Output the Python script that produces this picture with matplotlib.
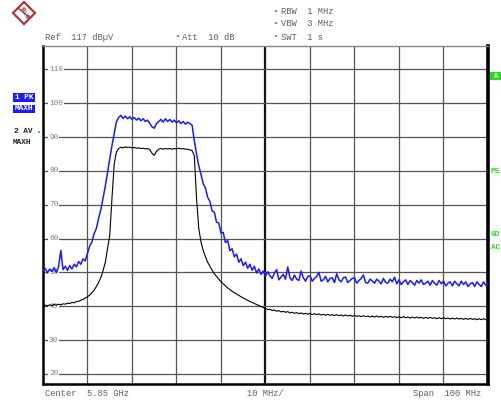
import numpy as np
import matplotlib
matplotlib.use("Agg")
import matplotlib.pyplot as plt
from matplotlib.patches import Rectangle, Polygon
from matplotlib.lines import Line2D

# Sweep settings
center_label = "Center  5.85 GHz"
span_label = "Span  100 MHz"
div_label = "10 MHz/"
ref_level = 117          # dBuV, top of screen
y_ticks = [20, 30, 40, 50, 60, 70, 80, 90, 100, 110]

# Trace 1: peak detector, max hold (dBuV), 0.5 MHz per point from -50 to +50 MHz offset
trace_pk = [
    50.5, 51.2, 49.8, 51.0, 50.2, 51.4, 50.0, 51.6, 56.5, 50.8,   # -50
    51.8, 50.6, 52.0, 51.0, 52.4, 51.6, 53.2, 52.4, 54.0, 53.4,   # -45
    55.6, 57.8, 59.0, 61.5, 63.0, 66.0, 68.5, 72.0, 75.5, 79.5,   # -40
    83.5, 87.5, 91.0, 94.5, 95.8, 96.4, 95.5, 96.2, 95.4, 96.0,   # -35
    95.2, 95.8, 95.0, 95.6, 94.8, 95.4, 94.6, 95.0, 94.0, 93.0,   # -30
    92.6, 94.0, 94.6, 95.2, 94.4, 95.4, 94.6, 95.2, 94.4, 95.0,   # -25
    94.2, 94.8, 94.0, 94.6, 93.8, 94.4, 94.0, 93.5, 89.0, 85.0,   # -20
    81.5, 79.0, 76.2, 75.0, 72.2, 71.0, 68.2, 67.8, 64.8, 64.6,   # -15
    61.6, 61.8, 58.8, 59.4, 56.4, 57.0, 54.6, 55.4, 53.0, 54.0,   # -10
    52.0, 53.0, 51.2, 52.4, 50.6, 51.8, 49.8, 51.0, 49.4, 50.4,   # -5
    48.8, 50.2, 49.0, 48.2, 49.8, 50.8, 47.8, 48.6, 49.4, 48.0,   # 0
    51.6, 48.4, 47.6, 49.2, 48.0, 47.6, 50.4, 48.4, 47.4, 48.8,   # 5
    49.0, 47.4, 48.2, 48.8, 50.0, 47.4, 47.8, 48.8, 47.2, 48.2,   # 10
    48.4, 47.0, 49.6, 47.8, 47.2, 48.4, 48.6, 47.0, 47.6, 48.2,   # 15
    48.4, 46.8, 47.6, 48.2, 49.2, 47.0, 46.8, 48.0, 47.4, 46.8,   # 20
    48.0, 47.4, 46.6, 48.2, 47.0, 46.8, 48.0, 47.2, 48.6, 46.6,   # 25
    47.8, 46.4, 47.2, 47.8, 46.4, 47.6, 47.0, 46.2, 47.6, 46.8,   # 30
    47.8, 46.4, 46.8, 47.4, 46.2, 47.6, 46.8, 46.2, 47.6, 46.6,   # 35
    47.4, 46.0, 46.8, 47.2, 46.0, 47.4, 46.6, 46.0, 47.4, 46.4,   # 40
    47.2, 45.8, 46.6, 47.0, 45.8, 47.2, 46.4, 45.8, 47.2, 46.2,   # 45
    46.8,                                                          # 50
]

# Trace 2: average detector, max hold (dBuV)
trace_av = [
    40.0, 40.3, 40.1, 40.4, 40.2, 40.5, 40.3, 40.6, 40.4, 40.7,   # -50
    40.6, 40.9, 40.8, 41.1, 41.0, 41.4, 41.4, 41.8, 42.0, 42.4,   # -45
    42.8, 43.3, 44.0, 44.8, 45.8, 47.0, 48.5, 50.5, 53.0, 57.0,   # -40
    61.0, 72.0, 82.0, 85.6, 86.6, 87.0, 86.8, 87.1, 86.9, 87.0,   # -35
    86.8, 86.9, 86.7, 86.8, 86.6, 86.7, 86.5, 86.6, 86.3, 85.2,   # -30
    84.6, 85.8, 86.4, 86.6, 86.4, 86.6, 86.5, 86.6, 86.4, 86.6,   # -25
    86.5, 86.7, 86.5, 86.6, 86.4, 86.4, 86.2, 86.0, 84.5, 72.0,   # -20
    63.0, 59.0, 56.5, 54.6, 53.0, 51.8, 50.6, 49.6, 48.8, 48.0,   # -15
    47.2, 46.6, 46.0, 45.4, 44.9, 44.4, 44.0, 43.6, 43.2, 42.8,   # -10
    42.4, 42.1, 41.7, 41.4, 41.1, 40.8, 40.5, 40.2, 39.9, 39.6,   # -5
    39.3, 39.0, 39.1, 38.7, 38.9, 38.5, 38.7, 38.3, 38.5, 38.2,   # 0
    38.4, 38.0, 38.2, 37.9, 38.1, 37.8, 38.0, 37.7, 37.9, 37.6,   # 5
    37.9, 37.5, 37.8, 37.5, 37.7, 37.4, 37.6, 37.3, 37.6, 37.3,   # 10
    37.5, 37.2, 37.5, 37.2, 37.4, 37.1, 37.4, 37.1, 37.3, 37.0,   # 15
    37.3, 37.0, 37.2, 36.9, 37.2, 36.9, 37.1, 36.8, 37.1, 36.8,   # 20
    37.1, 36.8, 37.0, 36.7, 37.0, 36.7, 37.0, 36.7, 36.9, 36.6,   # 25
    36.9, 36.6, 36.9, 36.6, 36.8, 36.5, 36.8, 36.5, 36.8, 36.5,   # 30
    36.7, 36.4, 36.7, 36.4, 36.7, 36.4, 36.6, 36.3, 36.6, 36.3,   # 35
    36.6, 36.3, 36.5, 36.2, 36.5, 36.2, 36.5, 36.2, 36.4, 36.1,   # 40
    36.4, 36.1, 36.4, 36.1, 36.3, 36.0, 36.3, 36.0, 36.3, 36.0,   # 45
    36.2,                                                          # 50
]

freq_pk = np.linspace(-50, 50, len(trace_pk))
freq_av = np.linspace(-50, 50, len(trace_av))

W, H = 502, 401
MONO = "Liberation Mono"
GREEN = "#22dd22"
BLUE = "#1a1aff"
GRAY_TXT = "#606060"


def fx(x):
    return x / W


def fy(y):
    return 1 - y / H


fig = plt.figure(figsize=(W / 100, H / 100), dpi=100)
fig.patch.set_facecolor("white")

ax = fig.add_axes([fx(43), fy(384), (488 - 43) / W, (384 - 45.7) / H])
ax.set_xlim(-50, 50)
ax.set_ylim(ref_level - 100, ref_level)
ax.set_xticks([])
ax.set_yticks([])

# graticule
for f in range(-40, 50, 10):
    if f == 0:
        ax.axvline(f, color="#111111", lw=1.6, zorder=1)
    else:
        ax.axvline(f, color="#555555", lw=0.9, zorder=1)
for v in y_ticks:
    ax.axhline(v, color="#555555", lw=0.9, zorder=1)

for side, (c, w) in {"left": ("black", 1.8), "bottom": ("black", 1.8),
                     "right": ("black", 2.6), "top": ("#888888", 1.0)}.items():
    ax.spines[side].set_color(c)
    ax.spines[side].set_linewidth(w)

# level labels on the grid
for v in y_ticks:
    ax.text(0.0135, v, f"{v}", transform=ax.get_yaxis_transform(),
            fontsize=5.6, family=MONO, color="#808080", ha="left", va="center",
            zorder=2, bbox=dict(boxstyle="square,pad=0.15", fc="white", ec="none"))

# traces
ax.plot(freq_pk, trace_pk, color=BLUE, lw=1.1, zorder=4)
ax.plot(freq_av, trace_av, color="black", lw=0.8, zorder=5)

# header
hdr = dict(fontsize=6.3, family=MONO, color=GRAY_TXT, va="center", ha="left")
fig.text(fx(45), fy(37), "Ref  117 dB\u00b5V", **hdr)
fig.text(fx(182), fy(37), "Att  10 dB", **hdr)
fig.text(fx(281), fy(12), "RBW  1 MHz", **hdr)
fig.text(fx(281), fy(24), "VBW  3 MHz", **hdr)
fig.text(fx(281), fy(37), "SWT  1 s", **hdr)
for (x, y) in [(178, 36), (276, 11), (276, 23), (276, 36), (39, 132)]:
    fig.add_artist(Rectangle((fx(x - 1), fy(y + 1)), 2.2 / W, 2.2 / H,
                             transform=fig.transFigure, fc=GREEN, ec="none"))

# footer
fig.text(fx(45), fy(393), center_label, **hdr)
fig.text(fx(247), fy(393), div_label, **hdr)
fig.text(fx(413), fy(393), span_label, **hdr)

# trace labels on the left
for (y0, y1, s) in [(93, 102, "1 PK"), (105, 113, "MAXH")]:
    fig.add_artist(Rectangle((fx(13), fy(y1)), 22 / W, (y1 - y0) / H,
                             transform=fig.transFigure, fc=BLUE, ec="none"))
    fig.text(fx(24), fy((y0 + y1) / 2), s, fontsize=5.6, family=MONO,
             color="white", ha="center", va="center", weight="bold")
fig.text(fx(14), fy(132), "2 AV", fontsize=5.6, family=MONO, color="#222222",
         ha="left", va="center", weight="bold")
fig.text(fx(13), fy(143), "MAXH", fontsize=5.6, family=MONO, color="#222222",
         ha="left", va="center", weight="bold")

# right-hand status markers
fig.add_artist(Rectangle((fx(490), fy(80)), 12 / W, 8 / H,
                         transform=fig.transFigure, fc=GREEN, ec="none"))
fig.text(fx(496), fy(76), "A", fontsize=5, family=MONO, color="white",
         ha="center", va="center", weight="bold")
for (y, s) in [(172, "PS"), (235, "6D"), (247, "AC")]:
    fig.text(fx(491), fy(y), s, fontsize=5.6, family=MONO, color=GREEN,
             ha="left", va="center", weight="bold")

# maker logo
cx, cy, r = 24, 13, 11
logo_red = "#a83a3a"
fig.add_artist(Polygon([(fx(cx), fy(cy - r)), (fx(cx + r), fy(cy)),
                        (fx(cx), fy(cy + r)), (fx(cx - r), fy(cy))],
                       closed=True, transform=fig.transFigure,
                       fc="white", ec=logo_red, lw=1.6))
fig.add_artist(Line2D([fx(cx - 6), fx(cx + 6)], [fy(cy - 5), fy(cy + 5)],
                      transform=fig.transFigure, color=logo_red, lw=1.0))
fig.text(fx(cx - 2), fy(cy - 3), "R", fontsize=4.5, color=logo_red,
         ha="center", va="center", rotation=-45, weight="bold")
fig.text(fx(cx), fy(cy), "&", fontsize=3.5, color=logo_red,
         ha="center", va="center", rotation=-45)
fig.text(fx(cx + 2), fy(cy + 4), "S", fontsize=4.5, color=logo_red,
         ha="center", va="center", rotation=-45, weight="bold")

fig.savefig("out.png", dpi=100)
